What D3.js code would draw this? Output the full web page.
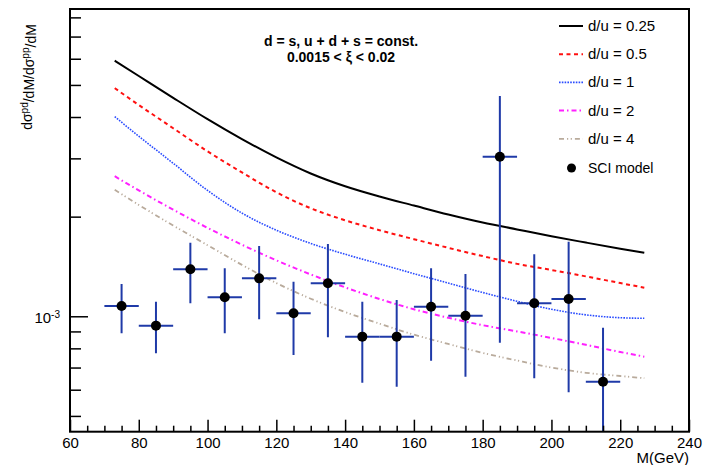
<!DOCTYPE html>
<html>
<head>
<meta charset="utf-8">
<script src="https://cdn.jsdelivr.net/npm/d3@7"></script>
<style>
  body { margin: 0; background: #fff; }
  text { font-family: "Liberation Sans", Arial, sans-serif; }
</style>
</head>
<body>
<script>
// SCI model points (x 1e-3)
var binCenters = [75, 85, 95, 105, 115, 125, 135, 145, 155, 165, 175, 185, 195, 205, 215]
var binWidth = 10
var sciVal = [1.074, 0.937, 1.387, 1.141, 1.302, 1.021, 1.258, 0.868, 0.868, 1.069, 1.004, 3.035, 1.095, 1.128, 0.634]
var sciHigh = [1.252, 1.107, 1.669, 1.396, 1.631, 1.272, 1.654, 1.107, 1.120, 1.397, 1.342, 4.63, 1.539, 1.680, 0.924]
var sciLow = [0.888, 0.773, 1.095, 0.888, 0.979, 0.764, 0.864, 0.630, 0.613, 0.734, 0.657, 0.832, 0.650, 0.589, 0.42]

// curves (x 1e-3)
var curveMass = [73, 80, 90, 100, 110, 120, 130, 140, 150, 160, 170, 180, 190, 200, 210, 220, 227]
var du025 = [5.92, 5.32, 4.57, 3.94, 3.43, 3.02, 2.70, 2.47, 2.30, 2.16, 2.03, 1.92, 1.83, 1.745, 1.67, 1.60, 1.555]
var du05 = [4.89, 4.35, 3.7, 3.15, 2.72, 2.37, 2.12, 1.95, 1.82, 1.71, 1.61, 1.52, 1.44, 1.38, 1.32, 1.26, 1.22]
var du1 = [4.01, 3.50, 2.90, 2.40, 2.05, 1.82, 1.66, 1.54, 1.44, 1.345, 1.26, 1.18, 1.11, 1.05, 1.01, 0.99, 0.986]
var du2 = [2.65, 2.40, 2.10, 1.85, 1.645, 1.476, 1.338, 1.223, 1.128, 1.05, 0.99, 0.94, 0.90, 0.86, 0.82, 0.78, 0.755]
var du4 = [2.41, 2.17, 1.88, 1.64, 1.43, 1.26, 1.13, 1.03, 0.95, 0.88, 0.825, 0.775, 0.735, 0.70, 0.675, 0.66, 0.65]

var seriesNames = ["d/u = 0.25", "d/u = 0.5", "d/u = 1", "d/u = 2", "d/u = 4"]
var xMajorTicks = [60, 80, 100, 120, 140, 160, 180, 200, 220, 240]
var yMinorTicks = [0.5, 0.6, 0.7, 0.8, 0.9, 2, 3, 4, 5, 6, 7, 8]

var width = 704, height = 465
var frame = {left: 70, right: 689, top: 9, bottom: 431.7}

var svg = d3.select("body").append("svg")
    .attr("width", width)
    .attr("height", height)

var x = d3.scaleLinear().domain([60, 240]).range([frame.left, frame.right])
var y = d3.scaleLog().domain([0.448e-3, 8.48e-3]).range([frame.bottom, frame.top])

svg.append("clipPath").attr("id", "clip")
  .append("rect")
    .attr("x", frame.left).attr("y", frame.top)
    .attr("width", frame.right - frame.left).attr("height", frame.bottom - frame.top)

var plot = svg.append("g").attr("clip-path", "url(#clip)")

// curves
var styles = [
    {color: "#000000", width: 2, dash: null},
    {color: "#ff1010", width: 2, dash: "4,3.5"},
    {color: "#2a4cff", width: 1.6, dash: "1.6,1.2"},
    {color: "#ff20ff", width: 2, dash: "5,3,1.5,3"},
    {color: "#b9ab9c", width: 1.8, dash: "5,3,1.2,2.5,1.2,3"}
]
var curves = [du025, du05, du1, du2, du4]

var line = d3.line()
    .x(function(d) { return x(d[0]) })
    .y(function(d) { return y(d[1] * 1e-3) })
    .curve(d3.curveMonotoneX)

curves.forEach(function(vals, i) {
    plot.append("path")
        .datum(curveMass.map(function(m, j) { return [m, vals[j]] }))
        .attr("d", line)
        .attr("fill", "none")
        .attr("stroke", styles[i].color)
        .attr("stroke-width", styles[i].width)
        .attr("stroke-dasharray", styles[i].dash)
})

// SCI points with error bars
var pts = plot.selectAll(".pt")
    .data(binCenters.map(function(c, i) {
        return {m: c, v: sciVal[i] * 1e-3, hi: sciHigh[i] * 1e-3, lo: sciLow[i] * 1e-3}
    }))
    .enter().append("g").attr("class", "pt")

pts.append("line")
    .attr("x1", function(d) { return x(d.m - binWidth / 2) })
    .attr("x2", function(d) { return x(d.m + binWidth / 2) })
    .attr("y1", function(d) { return y(d.v) })
    .attr("y2", function(d) { return y(d.v) })
    .attr("stroke", "#1f3aa8").attr("stroke-width", 2)

pts.append("line")
    .attr("x1", function(d) { return x(d.m) })
    .attr("x2", function(d) { return x(d.m) })
    .attr("y1", function(d) { return y(d.hi) })
    .attr("y2", function(d) { return y(d.lo) })
    .attr("stroke", "#1f3aa8").attr("stroke-width", 2)

pts.append("circle")
    .attr("cx", function(d) { return x(d.m) })
    .attr("cy", function(d) { return y(d.v) })
    .attr("r", 5)
    .attr("fill", "#000")

// axes, ROOT style ticks inside the frame
var xAxis = svg.append("g")
    .attr("transform", "translate(0," + frame.bottom + ")")
    .call(d3.axisBottom(x).tickValues(xMajorTicks).tickSizeInner(-12).tickSizeOuter(0).tickPadding(6))
xAxis.select(".domain").remove()
xAxis.selectAll("line").attr("stroke-width", 1.5)
xAxis.selectAll("text").attr("font-size", 15).attr("fill", "#000")

var xMinor = svg.append("g")
    .attr("transform", "translate(0," + frame.bottom + ")")
    .call(d3.axisBottom(x).tickValues(d3.range(65, 240, 5).filter(function(v) { return v % 20 })).tickSize(-6).tickFormat(""))
xMinor.select(".domain").remove()
xMinor.selectAll("line").attr("stroke-width", 1.5)

var yAxis = svg.append("g")
    .attr("transform", "translate(" + frame.left + ",0)")
    .call(d3.axisLeft(y).tickValues([1e-3]).tickSizeInner(-18).tickSizeOuter(0).tickPadding(10).tickFormat(""))
yAxis.select(".domain").remove()
yAxis.selectAll("line").attr("stroke-width", 1.5)
var yLab = yAxis.select(".tick text").attr("font-size", 15).attr("fill", "#000").attr("dy", "0.4em")
yLab.append("tspan").text("10")
yLab.append("tspan").attr("dy", "-0.45em").attr("font-size", 10).text("-3")

var yMinor = svg.append("g")
    .attr("transform", "translate(" + frame.left + ",0)")
    .call(d3.axisLeft(y).tickValues(yMinorTicks.map(function(v) { return v * 1e-3 })).tickSize(-11).tickFormat(""))
yMinor.select(".domain").remove()
yMinor.selectAll("line").attr("stroke-width", 1.5)

// frame
svg.append("rect")
    .attr("x", frame.left).attr("y", frame.top)
    .attr("width", frame.right - frame.left).attr("height", frame.bottom - frame.top)
    .attr("fill", "none").attr("stroke", "#000").attr("stroke-width", 2)

// axis titles
svg.append("text")
    .attr("x", frame.right).attr("y", 463)
    .attr("text-anchor", "end").attr("font-size", 15)
    .text("M(GeV)")

var yTitle = svg.append("text")
    .attr("transform", "translate(32,77) rotate(-90)")
    .attr("text-anchor", "middle").attr("font-size", 14)
yTitle.append("tspan").text("dσ")
yTitle.append("tspan").attr("dy", "-0.45em").attr("font-size", 10).text("pd")
yTitle.append("tspan").attr("dy", "0.45em").text("/dM/dσ")
yTitle.append("tspan").attr("dy", "-0.45em").attr("font-size", 10).text("pp")
yTitle.append("tspan").attr("dy", "0.45em").text("/dM")

// header text
var header = svg.append("g").attr("font-weight", "bold").attr("font-size", 14).attr("text-anchor", "middle")
header.append("text").attr("x", 341).attr("y", 46).text("d = s, u + d + s = const.")
header.append("text").attr("x", 341).attr("y", 62).text("0.0015 < ξ < 0.02")

// legend
var legend = svg.append("g")
seriesNames.forEach(function(name, i) {
    var ly = 26 + i * 28.2
    legend.append("line")
        .attr("x1", 559).attr("x2", 583).attr("y1", ly).attr("y2", ly)
        .attr("stroke", styles[i].color)
        .attr("stroke-width", styles[i].width)
        .attr("stroke-dasharray", styles[i].dash)
    legend.append("text")
        .attr("x", 588).attr("y", ly + 5)
        .attr("font-size", 15)
        .text(name)
})
legend.append("circle").attr("cx", 571.5).attr("cy", 168).attr("r", 4.5).attr("fill", "#000")
legend.append("text").attr("x", 588).attr("y", 173).attr("font-size", 14).text("SCI model")
</script>
</body>
</html>
